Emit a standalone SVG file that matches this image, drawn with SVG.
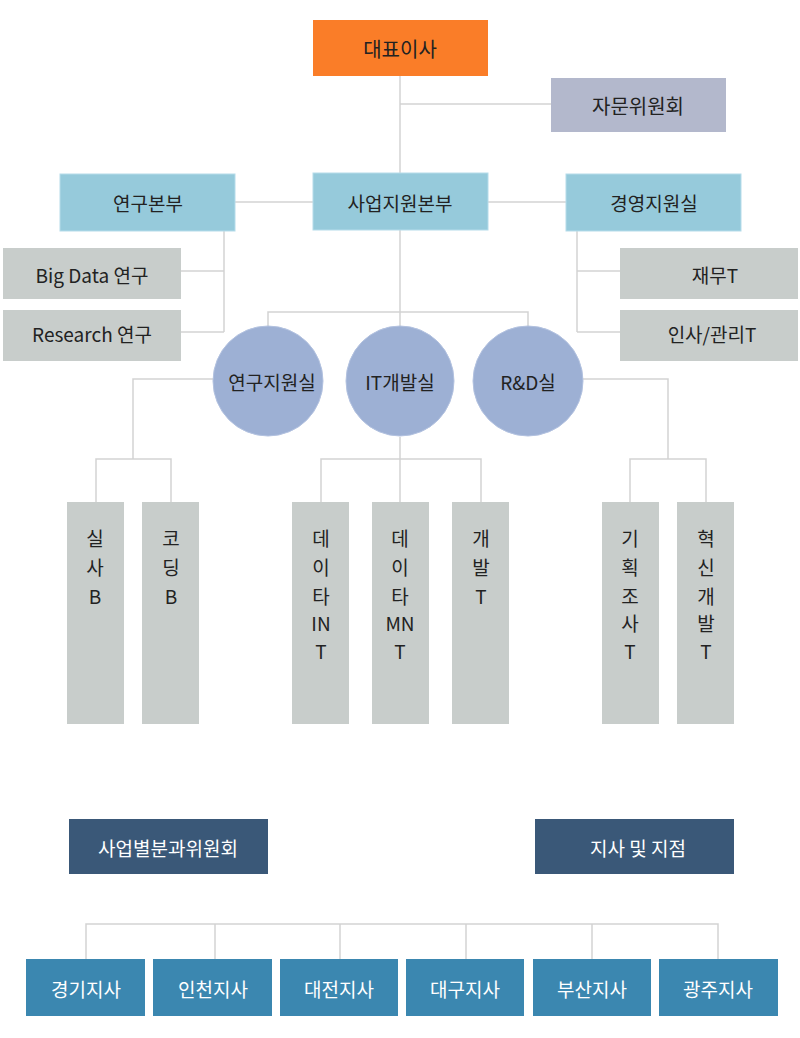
<svg xmlns="http://www.w3.org/2000/svg" width="800" height="1038" viewBox="0 0 800 1038">
<style>
text{font-family:"Noto Sans CJK KR","Noto Sans",sans-serif;text-anchor:middle;dominant-baseline:central;fill:#222}
.l{stroke:#d3d3d3;stroke-width:1.5;fill:none}
.b{fill:#96CADB;stroke:#b5dcea}
.g{fill:#C8CDCB}
.c{fill:#9DB0D4;stroke:#b3c2e0}
.d{fill:#3A5878}
.s{fill:#3B87B0}
.w{fill:#fff}
.t{font-size:20px}
.m{font-size:19px}
.v{font-size:19px}
</style>
<g id="connectors">
<path class="l" d="M400 76V326M400 104H551M235 202H313M488 202H566M224 231V332M181 271H224M181 332H224M577 231V332M577 271H620M577 332H620M268 326V312H528V326M214 379H133V459M96 502V459H171V502M400 437V459M321 502V459H481V502M400 459V502M582 379H668V459M630 502V459H706V502M86 959V924H718V959M215 924V959M340 924V959M466 924V959M592 924V959"/>
</g>
<g id="ceo"><rect x="313" y="20" width="175" height="56" fill="#FA7D28"/><text class="t" x="400" y="48">대표이사</text></g>
<g id="advisory"><rect x="551" y="78" width="175" height="54" fill="#B3B8CC"/><text class="t" x="638" y="105">자문위원회</text></g>
<g id="research-hq"><rect class="b" x="60" y="174" width="175" height="57"/><text class="m" x="148" y="202">연구본부</text></g>
<g id="biz-hq"><rect class="b" x="313" y="173" width="175" height="57"/><text class="m" x="400" y="202">사업지원본부</text></g>
<g id="mgmt"><rect class="b" x="566" y="174" width="175" height="57"/><text class="m" x="654" y="202">경영지원실</text></g>
<g id="bigdata"><rect class="g" x="3" y="248" width="178" height="51"/><text class="m" x="92" y="274">Big Data 연구</text></g>
<g id="research"><rect class="g" x="3" y="310" width="178" height="51"/><text class="m" x="92" y="333">Research 연구</text></g>
<g id="finance"><rect class="g" x="620" y="248" width="178" height="51"/><text class="m" x="715" y="274">재무T</text></g>
<g id="hr"><rect class="g" x="620" y="310" width="178" height="51"/><text class="m" x="712" y="333">인사/관리T</text></g>
<g id="rsupport"><ellipse class="c" cx="268" cy="381" rx="55" ry="55"/><text class="m" x="272" y="381">연구지원실</text></g>
<g id="itdev"><ellipse class="c" cx="400" cy="381" rx="54" ry="55"/><text class="m" x="400" y="381">IT개발실</text></g>
<g id="rnd"><ellipse class="c" cx="528" cy="381" rx="55" ry="55"/><text class="m" x="528" y="381">R&amp;D실</text></g>
<g id="silsa"><rect class="g" x="67" y="502" width="57" height="222"/><text class="v" x="95" y="537">실</text><text class="v" x="95" y="566">사</text><text class="v" x="95" y="595">B</text></g>
<g id="coding"><rect class="g" x="142" y="502" width="57" height="222"/><text class="v" x="171" y="537">코</text><text class="v" x="171" y="566">딩</text><text class="v" x="171" y="595">B</text></g>
<g id="dataint"><rect class="g" x="292" y="502" width="57" height="222"/><text class="v" x="321" y="537">데</text><text class="v" x="321" y="566">이</text><text class="v" x="321" y="595">타</text><text class="v" x="321" y="622">IN</text><text class="v" x="321" y="650">T</text></g>
<g id="datamn"><rect class="g" x="372" y="502" width="57" height="222"/><text class="v" x="400" y="537">데</text><text class="v" x="400" y="566">이</text><text class="v" x="400" y="595">타</text><text class="v" x="400" y="622">MN</text><text class="v" x="400" y="650">T</text></g>
<g id="dev"><rect class="g" x="452" y="502" width="57" height="222"/><text class="v" x="481" y="537">개</text><text class="v" x="481" y="566">발</text><text class="v" x="481" y="595">T</text></g>
<g id="plan"><rect class="g" x="602" y="502" width="57" height="222"/><text class="v" x="630" y="537">기</text><text class="v" x="630" y="566">획</text><text class="v" x="630" y="595">조</text><text class="v" x="630" y="622">사</text><text class="v" x="630" y="650">T</text></g>
<g id="innov"><rect class="g" x="677" y="502" width="57" height="222"/><text class="v" x="706" y="537">혁</text><text class="v" x="706" y="566">신</text><text class="v" x="706" y="595">개</text><text class="v" x="706" y="622">발</text><text class="v" x="706" y="650">T</text></g>
<g id="committee"><rect class="d" x="69" y="819" width="199" height="55"/><text class="m w" x="168" y="847">사업별분과위원회</text></g>
<g id="branches"><rect class="d" x="535" y="819" width="199" height="55"/><text class="m w" x="638" y="847">지사 및 지점</text></g>
<g id="gyeonggi"><rect class="s" x="26" y="959" width="119" height="57"/><text class="m w" x="86" y="988">경기지사</text></g>
<g id="incheon"><rect class="s" x="153" y="959" width="119" height="57"/><text class="m w" x="213" y="988">인천지사</text></g>
<g id="daejeon"><rect class="s" x="280" y="959" width="118" height="57"/><text class="m w" x="339" y="988">대전지사</text></g>
<g id="daegu"><rect class="s" x="406" y="959" width="118" height="57"/><text class="m w" x="465" y="988">대구지사</text></g>
<g id="busan"><rect class="s" x="533" y="959" width="118" height="57"/><text class="m w" x="592" y="988">부산지사</text></g>
<g id="gwangju"><rect class="s" x="659" y="959" width="119" height="57"/><text class="m w" x="718" y="988">광주지사</text></g>
</svg>
